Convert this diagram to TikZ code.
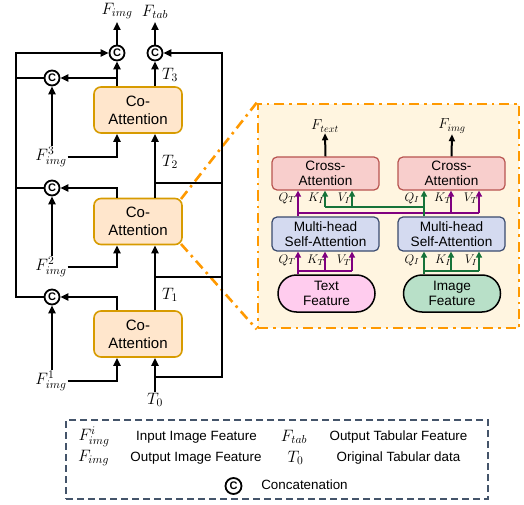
\RequirePackage{fix-cm}
\documentclass[tikz,border=0pt]{standalone}
\usepackage[no-math]{fontspec}
\setmainfont{Liberation Sans}
\usetikzlibrary{arrows.meta,shapes.misc,calc}
\definecolor{coFill}{HTML}{FFE6CC}
\definecolor{coLine}{HTML}{D79B00}
\definecolor{crFill}{HTML}{F8CECC}
\definecolor{crLine}{HTML}{B85450}
\definecolor{mhFill}{HTML}{D4DAF0}
\definecolor{mhLine}{HTML}{3A4A6E}
\definecolor{txFill}{HTML}{FFCCEE}
\definecolor{imFill}{HTML}{B8E0C8}
\definecolor{inFill}{HTML}{FFF5E0}
\definecolor{orng}{HTML}{FF9900}
\definecolor{pur}{HTML}{800080}
\definecolor{grn}{HTML}{17733A}
\definecolor{lgd}{HTML}{44546A}
\tikzset{
 coatt/.style={draw=coLine, fill=coFill, line width=1.6pt, rounded corners=7pt, minimum width=88pt, minimum height=46pt, align=center, inner sep=0pt, font=\fontsize{15}{18}\selectfont},
 concat/.style={circle, draw=black, fill=white, line width=1.8pt, minimum size=15pt, inner sep=0pt, font=\fontsize{11}{11}\selectfont\bfseries},
 wire/.style={line width=2.5pt, draw=black},
 arr/.style={wire, -{Triangle[length=8pt,width=7pt]}},
 mlab/.style={inner sep=1pt, font=\fontsize{16.5}{18}\selectfont},
 ddash/.style={draw=orng, line width=2.6pt, dash pattern=on 10pt off 5pt on 2.5pt off 5pt},
 crossbox/.style={draw=crLine, fill=crFill, line width=1.2pt, rounded corners=5pt, minimum width=107pt, minimum height=33pt, align=center, inner sep=0pt, font=\fontsize{13.6}{15}\selectfont},
 mhbox/.style={crossbox, draw=mhLine, fill=mhFill, minimum height=34pt},
 featbox/.style={rounded rectangle, draw=black, line width=1.5pt, minimum width=97pt, minimum height=37pt, align=center, inner sep=0pt, font=\fontsize{13.6}{15}\selectfont},
 parr/.style={draw=pur, line width=2pt, -{Triangle[length=6pt,width=6pt]}},
 pline/.style={draw=pur, line width=2pt},
 garr/.style={draw=grn, line width=2pt, -{Triangle[length=6pt,width=6pt]}},
 gline/.style={draw=grn, line width=2pt},
 qlab/.style={inner sep=0pt, font=\fontsize{12.5}{14}\selectfont},
 slab/.style={inner sep=1pt, font=\fontsize{14.5}{16}\selectfont},
 ltxt/.style={inner sep=0pt, text height=10pt, text depth=3pt, font=\fontsize{13.4}{15}\selectfont},
 lgdbox/.style={draw=lgd, line width=1.3pt, dash pattern=on 7pt off 4pt, minimum width=422pt, minimum height=79pt, inner sep=0pt},
}
\begin{document}
\begin{tikzpicture}[x=1pt,y=-1pt]
\useasboundingbox (0,0) rectangle (524,505);

% ---------- inset (drawn first, behind) ----------
\node[ddash, fill=inFill, minimum width=261pt, minimum height=224pt, inner sep=0pt] (inset) at (388.5,216) {};
\coordinate (ca2tr) at (181,199);
\coordinate (ca2br) at (181,244);
\draw[ddash] (ca2tr) -- (inset.north west);
\draw[ddash] (ca2br) -- (inset.south west);

% ---------- main column ----------
\node[coatt] (ca3) at (138,110) {Co-\\Attention};
\node[coatt] (ca2) at (138,221.5) {Co-\\Attention};
\node[coatt] (ca1) at (138,334) {Co-\\Attention};

\node[concat] (cTL) at (117,53) {C};
\node[concat] (cTR) at (155,53) {C};
\node[concat] (c3) at (52,78) {C};
\node[concat] (c2) at (52,188) {C};
\node[concat] (c1) at (52,297) {C};

\node[mlab, anchor=south] (Fimg) at (117,20) {$F_{img}$};
\node[mlab, anchor=south] (Ftab) at (155,20) {$F_{tab}$};
\draw[arr, shorten >=2pt] (cTL) -- (Fimg.south);
\draw[arr, shorten >=2pt] (cTR) -- (Ftab.south);

% left bus
\coordinate (bl1) at (16,297);
\coordinate (blt) at (16,53);
\draw[arr] (c1.west) -- (bl1) -- (blt) -- (cTL);
\draw[wire] (c2.west) -- (c2.west -| bl1);
\draw[wire] (c3.west) -- (c3.west -| bl1);

% image outputs of the co-attention blocks
\coordinate (j3) at (117,78);
\draw[arr] (ca3.north -| cTL) -- (cTL);
\draw[arr] (j3) -- (c3);
\draw[arr] (ca2.north -| cTL) |- (c2);
\draw[arr] (ca1.north -| cTL) |- (c1);

% image feature inputs
\node[mlab] (fi3) at (51,157) {$F^{3}_{img}$};
\node[mlab] (fi2) at (51,267) {$F^{2}_{img}$};
\node[mlab] (fi1) at (51,381) {$F^{1}_{img}$};
\draw[arr] (fi3.north -| c3) -- (c3);
\draw[arr] (fi2.north -| c2) -- (c2);
\draw[arr] (fi1.north -| c1) -- (c1);
\draw[arr] (fi3.east) -| (ca3.south -| cTL);
\draw[arr] (fi2.east) -| (ca2.south -| cTL);
\draw[arr] (fi1.east) -| (ca1.south -| cTL);

% tabular path
\node[mlab] (t0) at (155,400) {$T_0$};
\node[mlab] (t1) at (170,295) {$T_1$};
\node[mlab] (t2) at (170,162) {$T_2$};
\node[mlab] (t3) at (170,75) {$T_3$};
\draw[arr] (t0.north) -- (ca1.south -| t0);
\draw[arr] (ca1.north -| t0) -- (ca2.south -| t0);
\draw[arr] (ca2.north -| t0) -- (ca3.south -| t0);
\draw[arr] (ca3.north -| t0) -- (cTR);

% right bus
\coordinate (r0) at (155,377);
\coordinate (rb0) at (222,377);
\coordinate (rbt) at (222,53);
\coordinate (r1) at (155,277);
\coordinate (r2) at (155,183);
\draw[arr] (r0) -- (rb0) -- (rbt) -- (cTR);
\draw[wire] (r1) -- (r1 -| rb0);
\draw[wire] (r2) -- (r2 -| rb0);

% ---------- inset content ----------
\node[crossbox] (crL) at (325.5,173.5) {Cross-\\Attention};
\node[crossbox] (crR) at (451.5,173.5) {Cross-\\Attention};
\node[mhbox] (mhL) at (325.5,234) {Multi-head\\Self-Attention};
\node[mhbox] (mhR) at (451.5,234) {Multi-head\\Self-Attention};
\node[featbox, fill=txFill] (txt) at (326.5,293.5) {Text\\Feature};
\node[featbox, fill=imFill] (img) at (452,293.5) {Image\\Feature};

\node[slab] (ftext) at (325,126) {$F_{text}$};
\node[slab] (fimgR) at (452,126) {$F_{img}$};
\draw[arr, line width=2pt, -{Triangle[length=7pt,width=6pt]}] (crL.north) -- (ftext.south);
\draw[arr, line width=2pt, -{Triangle[length=7pt,width=6pt]}] (crR.north) -- (fimgR.south);

\coordinate (qL) at (298,0);
\coordinate (kL) at (325,0);
\coordinate (vL) at (352,0);
\coordinate (qR) at (424,0);
\coordinate (kR) at (451,0);
\coordinate (vR) at (479,0);
\coordinate (comb) at (0,271);
\coordinate (pT) at (0,213);
\coordinate (gT) at (0,207);

% bottom combs
\draw[parr] (txt.north -| qL) -- (mhL.south -| qL);
\draw[pline] (qL |- comb) -- (vL |- comb);
\draw[parr] (kL |- comb) -- (mhL.south -| kL);
\draw[parr] (vL |- comb) -- (mhL.south -| vL);
\draw[garr] (img.north -| qR) -- (mhR.south -| qR);
\draw[gline] (qR |- comb) -- (vR |- comb);
\draw[garr] (kR |- comb) -- (mhR.south -| kR);
\draw[garr] (vR |- comb) -- (mhR.south -| vR);

% upper cross connections
\draw[parr] (mhL.north -| qL) -- (crL.south -| qL);
\draw[pline] (qL |- pT) -- (vR |- pT);
\draw[parr] (kR |- pT) -- (crR.south -| kR);
\draw[parr] (vR |- pT) -- (crR.south -| vR);
\draw[garr] (mhR.north -| qR) -- (crR.south -| qR);
\draw[gline] (qR |- gT) -- (kL |- gT);
\draw[garr] (kL |- gT) -- (crL.south -| kL);
\draw[garr] (vL |- gT) -- (crL.south -| vL);

% labels
\node[qlab] (uq1) at (287,198) {$Q_T$};
\node[qlab] (uk1) at (316,198) {$K_I$};
\node[qlab] (uv1) at (344,198) {$V_I$};
\node[qlab] (uq2) at (412,198) {$Q_I$};
\node[qlab] (uk2) at (443,198) {$K_T$};
\node[qlab] (uv2) at (471,198) {$V_T$};
\node[qlab] (lq1) at (287,260) {$Q_T$};
\node[qlab] (lk1) at (316,260) {$K_T$};
\node[qlab] (lv1) at (344,260) {$V_T$};
\node[qlab] (lq2) at (412,260) {$Q_I$};
\node[qlab] (lk2) at (443,260) {$K_I$};
\node[qlab] (lv2) at (471,260) {$V_I$};

% ---------- legend ----------
\node[lgdbox] (legend) at (277,459.5) {};
\node[mlab] (l1) at (94,437) {$F^{i}_{img}$};
\node[ltxt] (l1t) at (196.5,437) {Input Image Feature};
\node[mlab] (l2) at (294,437) {$F_{tab}$};
\node[ltxt] (l2t) at (398.5,437) {Output Tabular Feature};
\node[mlab] (l3) at (93.5,458) {$F_{img}$};
\node[ltxt] (l3t) at (196,458) {Output Image Feature};
\node[mlab] (l4) at (295.5,458) {$T_0$};
\node[ltxt] (l4t) at (398.5,458) {Original Tabular data};
\node[concat, minimum size=16pt] (l5) at (233.5,486) {C};
\node[ltxt] (l5t) at (304.5,486) {Concatenation};
\end{tikzpicture}
\end{document}
